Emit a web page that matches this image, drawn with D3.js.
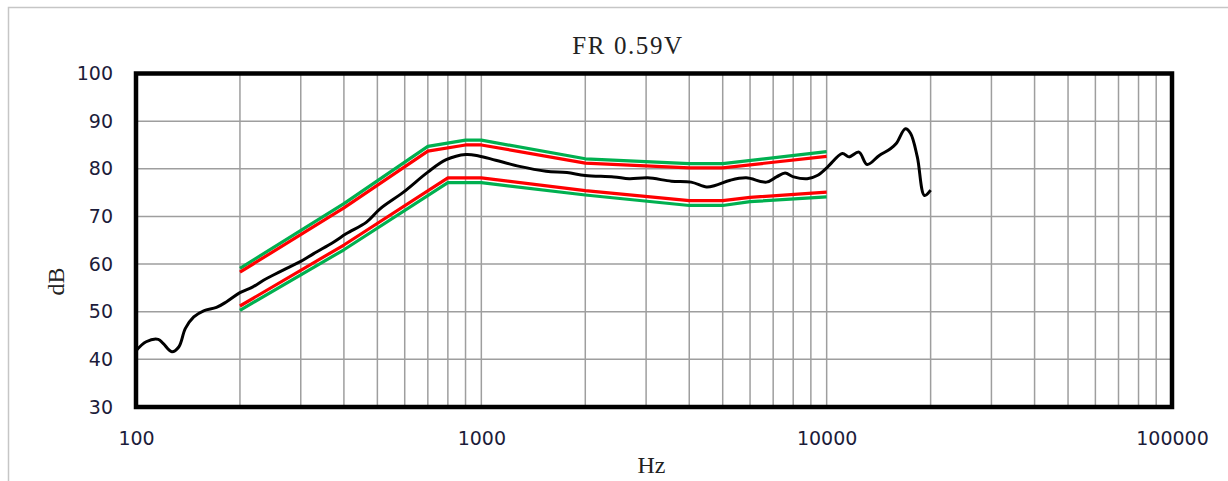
<!DOCTYPE html>
<html>
<head>
<meta charset="utf-8">
<script src="https://cdn.jsdelivr.net/npm/d3@7"></script>
<style>
  body { margin: 0; background: #fff; }
  svg { display: block; }
</style>
</head>
<body>
<div id="chart"></div>
<script>
// measured response (Hz, dB)
const respFreq = [100, 107, 116, 120, 127, 133, 139, 147, 157, 171, 183, 200, 218, 234, 250, 273, 299, 327, 373, 407, 465,
  509, 595, 700, 791, 902, 983, 1100, 1290, 1540, 1770, 2000, 2420, 2680, 3030, 3550, 4050, 4490, 4750, 5260, 5850,
  6690, 7160, 7580, 8020, 8780, 9390, 10040, 11100, 11600, 12400, 13100, 14200, 15300, 15900, 16900, 17500, 18300,
  19200, 20000];
const respDb = [41.8, 43.7, 44.2, 43.3, 41.6, 42.6, 46.5, 48.9, 50.2, 50.9, 52.1, 54.0, 55.2, 56.6, 57.7, 59.1, 60.5, 62.2, 64.6, 66.4, 68.8,
  71.6, 75.1, 79.3, 81.9, 83.0, 82.7, 81.8, 80.5, 79.5, 79.2, 78.6, 78.3, 77.9, 78.1, 77.4, 77.2, 76.2, 76.5, 77.6, 78.1,
  77.2, 78.3, 79.1, 78.3, 77.9, 78.6, 80.3, 83.2, 82.5, 83.5, 80.9, 82.8, 84.2, 85.3, 88.4, 87.4, 82.5,
  74.4, 75.5];

// tolerance limits
const upperFreq = [200, 400, 700, 900, 1000, 2000, 4000, 5000, 10000];
const upperRed = [58.3, 71.8, 83.7, 85.0, 85.0, 81.2, 80.2, 80.2, 82.6];
const upperGreen = [59.1, 72.7, 84.7, 86.0, 86.0, 82.1, 81.1, 81.1, 83.6];
const lowerFreq = [200, 400, 800, 1000, 2000, 4000, 5000, 6000, 10000];
const lowerRed = [51.2, 64.0, 78.1, 78.1, 75.4, 73.3, 73.3, 74.0, 75.1];
const lowerGreen = [50.3, 63.0, 77.1, 77.1, 74.5, 72.3, 72.3, 73.1, 74.1];

const xTicks = [100, 1000, 10000, 100000];
const yTicks = [30, 40, 50, 60, 70, 80, 90, 100];

const width = 1228, height = 481;
const margin = { top: 73.5, right: 56, bottom: 74, left: 136 };

const svg = d3.select('#chart').append('svg')
  .attr('width', width)
  .attr('height', height);

// outer border (top & left visible)
svg.append('path')
  .attr('d', `M8.5,${height} V7.5 H${width}`)
  .attr('fill', 'none')
  .attr('stroke', '#c6c6c6')
  .attr('stroke-width', 1.5);

const x = d3.scaleLog()
  .domain([100, 100000])
  .range([margin.left, width - margin.right]);

const y = d3.scaleLinear()
  .domain([30, 100])
  .range([height - margin.bottom, margin.top]);

// grid
const minor = [];
for (let dec = 100; dec < 100000; dec *= 10) {
  for (let k = 2; k <= 10; k++) minor.push(dec * k);
}
svg.append('g')
  .selectAll('line')
  .data(minor.filter(d => d < 100000))
  .enter().append('line')
  .attr('x1', d => x(d)).attr('x2', d => x(d))
  .attr('y1', y(30)).attr('y2', y(100))
  .attr('stroke', '#9e9e9e').attr('stroke-width', 1.5);

svg.append('g')
  .selectAll('line')
  .data(yTicks.slice(1, -1))
  .enter().append('line')
  .attr('x1', x(100)).attr('x2', x(100000))
  .attr('y1', d => y(d)).attr('y2', d => y(d))
  .attr('stroke', '#9e9e9e').attr('stroke-width', 1.5);

const line = d3.line()
  .x(d => x(d[0]))
  .y(d => y(d[1]));

const drawLimit = (freqs, vals, color) => {
  svg.append('path')
    .datum(freqs.map((f, i) => [f, vals[i]]))
    .attr('d', line)
    .attr('fill', 'none')
    .attr('stroke', color)
    .attr('stroke-width', 3.2)
    .attr('stroke-linejoin', 'round');
};
drawLimit(upperFreq, upperGreen, '#00b050');
drawLimit(lowerFreq, lowerGreen, '#00b050');
drawLimit(upperFreq, upperRed, '#ff0000');
drawLimit(lowerFreq, lowerRed, '#ff0000');

// response curve
svg.append('path')
  .datum(respFreq.map((f, i) => [f, respDb[i]]))
  .attr('d', line.curve(d3.curveCatmullRom))
  .attr('fill', 'none')
  .attr('stroke', '#000')
  .attr('stroke-width', 3)
  .attr('stroke-linejoin', 'round');

// axes
const xAxis = svg.append('g')
  .attr('transform', `translate(0,${y(30)})`)
  .call(d3.axisBottom(x).tickValues(xTicks).tickFormat(d3.format('d')).tickSize(0).tickPadding(25));
const yAxis = svg.append('g')
  .attr('transform', `translate(${x(100)},0)`)
  .call(d3.axisLeft(y).tickValues(yTicks).tickSize(0).tickPadding(23));

[xAxis, yAxis].forEach(a => {
  a.select('.domain').remove();
  a.selectAll('text')
    .attr('font-family', '"DejaVu Sans", sans-serif')
    .attr('font-size', '19px')
    .attr('fill', '#1c1c3a');
});

// frame
svg.append('rect')
  .attr('x', x(100)).attr('y', y(100))
  .attr('width', x(100000) - x(100))
  .attr('height', y(30) - y(100))
  .attr('fill', 'none')
  .attr('stroke', '#000')
  .attr('stroke-width', 4.5);

svg.append('text')
  .attr('x', 628).attr('y', 54)
  .attr('text-anchor', 'middle')
  .attr('font-family', '"Liberation Serif", serif')
  .attr('font-size', '25px')
  .attr('letter-spacing', '1.6px')
  .attr('fill', '#222')
  .text('FR 0.59V');

svg.append('text')
  .attr('x', 651.5).attr('y', 473)
  .attr('text-anchor', 'middle')
  .attr('font-family', '"Liberation Serif", serif')
  .attr('font-size', '24px')
  .attr('fill', '#222')
  .text('Hz');

svg.append('text')
  .attr('transform', 'translate(64,281.5) rotate(-90)')
  .attr('text-anchor', 'middle')
  .attr('font-family', '"Liberation Serif", serif')
  .attr('font-size', '24px')
  .attr('fill', '#222')
  .text('dB');
</script>
</body>
</html>
